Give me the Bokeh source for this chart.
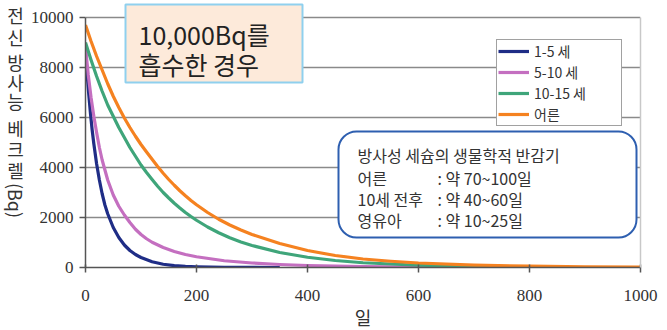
import math
from bokeh.plotting import figure
from bokeh.layouts import row
from bokeh.models import Label, BoxAnnotation, Legend, LegendItem, FixedTicker, Range1d, LinearAxis
from bokeh.embed import file_html
from bokeh.resources import INLINE

# ---- data ----
series_names = ["1-5 세", "5-10 세", "10-15 세", "어른"]

days_1_5 = [0, 3, 6, 9, 12, 15, 20, 25, 30, 35, 40, 50, 60, 70, 80, 90, 100, 120, 140, 160, 180, 200, 250, 300, 350]
bq_1_5 = [8700, 7700, 6900, 6150, 5500, 4950, 4150, 3500, 2950, 2500, 2150, 1600, 1200, 900, 680, 520, 400, 230, 130, 75, 45, 28, 10, 4, 1]

days_5_10 = [0, 5, 10, 15, 20, 25, 30, 40, 50, 60, 70, 80, 90, 100, 110, 120, 140, 160, 180, 200, 250, 300, 350, 400, 500, 600, 690]
bq_5_10 = [8800, 7700, 6800, 6050, 5400, 4800, 4300, 3500, 2900, 2450, 2100, 1800, 1530, 1320, 1150, 1010, 800, 640, 520, 430, 270, 180, 120, 80, 35, 15, 7]

days_10_15 = [0, 10, 20, 30, 40, 50, 60, 70, 80, 90, 100, 110, 120, 130, 140, 150, 160, 170, 180, 190, 200, 220, 240, 260, 280, 300, 350, 400, 450, 500, 600, 700, 820]
bq_10_15 = [9000, 8300, 7650, 7050, 6500, 6050, 5600, 5200, 4800, 4450, 4100, 3800, 3520, 3250, 3000, 2780, 2570, 2380, 2200, 2040, 1890, 1620, 1390, 1190, 1020, 880, 600, 410, 280, 190, 90, 42, 15]

days_adult = [0, 10, 20, 30, 40, 50, 60, 70, 80, 90, 100, 110, 120, 130, 140, 150, 160, 170, 180, 190, 200, 220, 240, 260, 280, 300, 350, 400, 450, 500, 550, 600, 700, 800, 900, 1000]
bq_adult = [9700, 9050, 8450, 7900, 7350, 6850, 6400, 5980, 5600, 5250, 4920, 4620, 4330, 4040, 3770, 3520, 3290, 3070, 2870, 2680, 2510, 2200, 1930, 1700, 1500, 1320, 960, 680, 480, 340, 250, 180, 95, 55, 30, 20]

x_ticks = [0, 200, 400, 600, 800, 1000]
y_ticks = [0, 2000, 4000, 6000, 8000, 10000]

colors = ["#1f2d86", "#c46fc0", "#3fa57a", "#f58220"]

KR = "Noto Sans CJK KR"
SERIF = "Liberation Serif"

STRIP_W = 27          # width of the left strip with the vertical title
FRAME_L = 85          # canvas x of the plot area's left edge
FRAME_B = 267         # canvas y of the plot area's bottom edge

# main chart: frame runs from the canvas top so the title box fits inside it
p = figure(frame_width=555, frame_height=FRAME_B,
           x_range=Range1d(0, 1000), y_range=Range1d(0, 10680),
           output_backend="svg", toolbar_location=None,
           min_border_left=FRAME_L - STRIP_W, min_border_right=27, min_border_top=0, min_border_bottom=63)
p.background_fill_color = "white"
p.border_fill_color = "white"
p.outline_line_color = None

p.xgrid.grid_line_color = None
p.ygrid.grid_line_color = "#8a8a8a"
p.ygrid.grid_line_width = 1.3
p.ygrid.ticker = FixedTicker(ticks=y_ticks)

for ax in (p.xaxis[0], p.yaxis[0]):
    ax.axis_line_color = "#555555"
    ax.axis_line_width = 1.5
    ax.major_tick_line_color = "#555555"
    ax.major_tick_line_width = 1.5
    ax.minor_tick_line_color = None
    ax.major_label_text_font = SERIF
    ax.major_label_text_font_size = "17px"
    ax.major_label_text_color = "#333333"

p.yaxis.bounds = (0, 10000)
p.xaxis.ticker = FixedTicker(ticks=x_ticks)
p.yaxis.ticker = FixedTicker(ticks=y_ticks)
p.xaxis.major_tick_in = 3
p.xaxis.major_tick_out = 5
p.xaxis.major_label_standoff = 17
p.yaxis.major_tick_in = 0
p.yaxis.major_tick_out = 6
p.yaxis.major_label_standoff = 6
p.xaxis.axis_label = "일"
p.xaxis.axis_label_text_font = KR
p.xaxis.axis_label_text_font_size = "18px"
p.xaxis.axis_label_text_font_style = "normal"
p.xaxis.axis_label_text_color = "#333333"
p.xaxis.axis_label_standoff = 0

# light grey right edge of the plot area
right_edge = LinearAxis(bounds=(0, 10000), ticker=FixedTicker(ticks=[]),
                        axis_line_color="#c8c8c8", axis_line_width=1.5,
                        major_tick_line_color=None, minor_tick_line_color=None,
                        major_label_text_font_size="0px", major_label_standoff=0,
                        major_tick_out=0, major_tick_in=0)
p.add_layout(right_edge, "right")

renderers = []
for d, v, c in [(days_1_5, bq_1_5, colors[0]), (days_5_10, bq_5_10, colors[1]),
                (days_10_15, bq_10_15, colors[2]), (days_adult, bq_adult, colors[3])]:
    r = p.line(d, v, line_color=c, line_width=3.2, line_join="round")
    renderers.append(r)

legend = Legend(items=[LegendItem(label=n, renderers=[r]) for n, r in zip(series_names, renderers)],
                location=(496 - FRAME_L, FRAME_B - 126), orientation="vertical",
                label_text_font=KR, label_text_font_size="14px", label_text_color="#333333",
                glyph_width=31, glyph_height=20, label_height=20, label_width=86,
                label_standoff=5, spacing=1, padding=1, margin=0,
                border_line_color="#444444", border_line_width=1.2,
                background_fill_color="white", background_fill_alpha=1.0)
p.add_layout(legend, "center")


def sbox(l, r, t, b, **kw):
    return BoxAnnotation(left=l - FRAME_L, right=r - FRAME_L, top=FRAME_B - t, bottom=FRAME_B - b,
                         left_units="screen", right_units="screen", top_units="screen",
                         bottom_units="screen", fill_alpha=1.0, line_alpha=1.0, **kw)


def slabel(x, cy, text, size, color="#333333", **kw):
    return Label(x=x - FRAME_L, y=FRAME_B - cy, x_units="screen", y_units="screen", text=text,
                 text_font=KR, text_font_size=size, text_color=color,
                 text_baseline="middle", text_align="left", **kw)


# info box (rounded)
p.add_layout(sbox(338, 636, 131, 237, fill_color="white", line_color="#2e5fb0",
                  line_width=2, border_radius=18))
info_lines = [("방사성 세슘의 생물학적 반감기", None, 154),
              ("어른", ": 약 70~100일", 177),
              ("10세 전후", ": 약 40~60일", 198),
              ("영유아", ": 약 10~25일", 219)]
for left_t, right_t, cy in info_lines:
    p.add_layout(slabel(357, cy, left_t, "16px"))
    if right_t:
        p.add_layout(slabel(437, cy, right_t, "16px"))

# title box
p.add_layout(sbox(125, 302, 4, 82, fill_color="#fdeada", line_color="#8fd0ee", line_width=2))
p.add_layout(slabel(138, 33, "10,000Bq를", "25px", color="#222222"))
p.add_layout(slabel(138, 63, "흡수한 경우", "25px", color="#222222"))

# narrow strip on the left carrying the vertical y-axis title
fy = figure(width=STRIP_W, height=330, x_range=Range1d(0, STRIP_W), y_range=Range1d(0, 330),
            x_axis_type=None, y_axis_type=None, output_backend="svg", toolbar_location=None,
            min_border=0)
fy.outline_line_color = None
fy.background_fill_color = "white"
fy.border_fill_color = "white"
ylab_chars = [("전", 16), ("신", 38), ("방", 63), ("사", 83), ("능", 102),
              ("베", 129), ("크", 150), ("렐", 171)]
for ch, cy in ylab_chars:
    fy.add_layout(Label(x=15, y=FRAME_B - cy, x_units="screen", y_units="screen", text=ch,
                        text_font=KR, text_font_size="18px", text_color="#333333",
                        text_align="center", text_baseline="middle"))
fy.add_layout(Label(x=15, y=FRAME_B - 202, x_units="screen", y_units="screen", text="(Bq)",
                    angle=-math.pi / 2, text_font=KR, text_font_size="18px", text_color="#333333",
                    text_align="center", text_baseline="middle"))

layout = row(fy, p, spacing=0)
open("out.html", "w").write(file_html(layout, INLINE))
